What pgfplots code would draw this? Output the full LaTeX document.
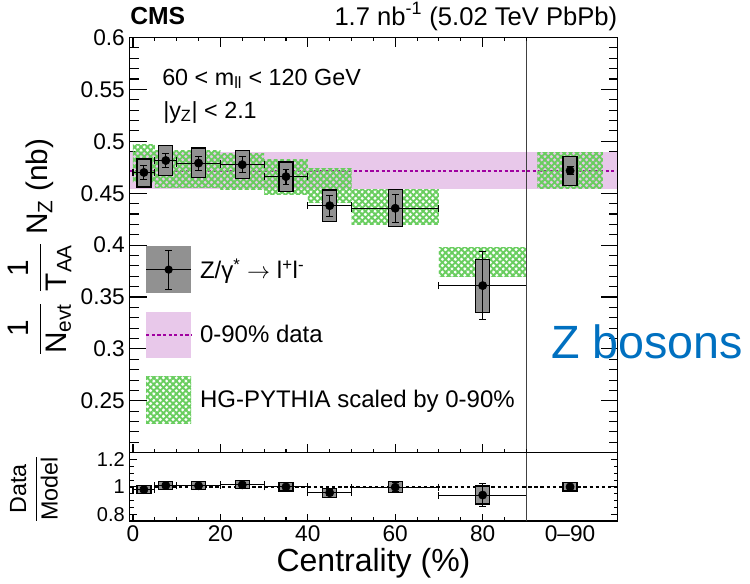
\documentclass[border=0pt]{standalone}
\usepackage{amsmath}
\usepackage{fontspec}
\setmainfont{Liberation Sans}
\usepackage{pgfplots}
\usepackage{pgfplotstable}
\pgfplotsset{compat=1.18}
\usetikzlibrary{patterns.meta}

\definecolor{bandpink}{RGB}{232,200,234}
\definecolor{linepurple}{RGB}{160,0,160}
\definecolor{hgreen}{RGB}{105,205,95}
\definecolor{boxgray}{RGB}{145,145,145}
\definecolor{zblue}{RGB}{0,112,192}

% normalised Z yields per centrality class: x, value, half bin width, stat. error
\pgfplotstableread{
x     y       ex    ey
2.5   0.4700  2.5   0.0064
7.5   0.4815  2.5   0.0070
15    0.4790  5     0.0067
25    0.4775  5     0.0075
35    0.4660  5     0.0072
45    0.4380  5     0.0100
60    0.4355  10    0.0135
80    0.3610  10    0.0330
100   0.4717  0     0.0040
}\yields

% data / HG-PYTHIA
\pgfplotstableread{
x     r       ex    er
2.5   0.980   2.5   0.014
7.5   1.010   2.5   0.016
15    1.008   5     0.015
25    1.015   5     0.016
35    1.000   5     0.016
45    0.957   5     0.022
60    0.998   10    0.031
80    0.940   10    0.086
100   1.000   0     0.009
}\ratios

\tikzset{
  hatchA/.style={pattern={Lines[angle=45,distance=3.4pt,line width=1.45pt]},pattern color=hgreen},
  hatchB/.style={pattern={Lines[angle=-45,distance=3.4pt,line width=1.45pt]},pattern color=hgreen},
}
% systematic box: xlo, xhi, ylo, yhi
\newcommand\sysbox[4]{\addplot[forget plot, fill=boxgray, draw=black, line width=0.9pt] coordinates {(#1,#3) (#2,#3) (#2,#4) (#1,#4)} -- cycle;}
% model band: xlo, xhi, ylo, yhi
\newcommand\hgband[4]{%
  \addplot[forget plot, draw=none, hatchA] coordinates {(#1,#3) (#2,#3) (#2,#4) (#1,#4)} -- cycle;
  \addplot[forget plot, draw=none, hatchB] coordinates {(#1,#3) (#2,#3) (#2,#4) (#1,#4)} -- cycle;}

\pgfplotsset{
  cmsaxis/.style={
    scale only axis, width=366pt, xmin=-0.8, xmax=110.85,
    axis line style={line width=0.9pt, black},
    tick style={line width=0.8pt, black},
    /pgf/number format/assume math mode=true,
    yticklabel style={/pgf/number format/fixed},
  },
  pts/.style={black, only marks, mark=*, mark size=3.1pt,
    error bars/.cd, x dir=both, x explicit, y dir=both, y explicit,
    error bar style={line width=0.8pt, black},
    error mark options={rotate=90, mark size=2.6pt, line width=0.8pt, black}},
}

\begin{document}
\begin{tikzpicture}[x=0.75pt, y=-0.75pt]
\path[use as bounding box] (0,0) rectangle (750,583);

% ---------------- upper panel ----------------
\begin{axis}[cmsaxis, at={(97.125pt,-339.525pt)}, anchor=south west, height=311.4pt,
  ymin=0.2, ymax=0.6,
  ytick={0.25,0.3,...,0.61}, minor ytick={0.21,0.22,...,0.595},
  xtick=\empty,
  major tick length=12.75pt, minor tick length=6.75pt,
  yticklabel style={font=\fontsize{17}{17}\selectfont},
  legend style={at={(axis description cs:0.0318,0.4978)}, anchor=north west,
    draw=none, fill=none, inner sep=0pt, row sep=14pt, column sep=6pt,
    nodes={inner sep=0pt, anchor=west}, font=\fontsize{18}{18}\selectfont},
  legend cell align=left,
]
% 0-90% reference band and its central value
\addplot[forget plot, fill=bandpink, draw=none] coordinates {(-0.8,0.4541) (110.85,0.4541) (110.85,0.4893) (-0.8,0.4893)} -- cycle;
\addplot[forget plot, linepurple, line width=1.3pt, dash pattern=on 2.4pt off 1.8pt] coordinates {(-0.8,0.4717) (110.85,0.4717)};
% HG-PYTHIA scaled by 0-90%
\hgband{0}{5}{0.4599}{0.4967}
\hgband{5}{10}{0.4555}{0.4915}
\hgband{10}{20}{0.4555}{0.4915}
\hgband{20}{30}{0.4534}{0.4887}
\hgband{30}{40}{0.4486}{0.4822}
\hgband{40}{50}{0.4407}{0.4742}
\hgband{50}{70}{0.4198}{0.4535}
\hgband{70}{90}{0.3696}{0.3980}
\hgband{92.5}{107.5}{0.4541}{0.4893}
% systematic uncertainties
\sysbox{0.9}{4.1}{0.456}{0.483}
\sysbox{5.9}{9.1}{0.467}{0.496}
\sysbox{13.4}{16.6}{0.4655}{0.4935}
\sysbox{23.4}{26.6}{0.464}{0.491}
\sysbox{33.4}{36.6}{0.452}{0.480}
\sysbox{43.4}{46.6}{0.423}{0.453}
\sysbox{58.4}{61.6}{0.418}{0.4535}
\sysbox{78.4}{81.6}{0.335}{0.386}
\sysbox{98.4}{101.6}{0.4573}{0.4855}
\addplot[forget plot, pts] table[x=x, y=y, x error=ex, y error=ey] {\yields};
\addplot[forget plot, black!75, line width=0.9pt] coordinates {(90,0.2) (90,0.6)};

\addlegendimage{legend image code/.code={
  \path[draw=none, fill=boxgray] (0pt,-17.5pt) rectangle (33.75pt,17.5pt);
  \draw[black, line width=0.8pt] (0pt,0pt) -- (33.75pt,0pt);
  \draw[black, line width=0.8pt] (16.875pt,-14.6pt) -- (16.875pt,14.6pt);
  \draw[black, line width=0.8pt] (14.4pt,-14.6pt) -- (19.4pt,-14.6pt) (14.4pt,14.6pt) -- (19.4pt,14.6pt);
  \path[draw=none, fill=black] (16.875pt,0pt) circle (3.1pt);}}
\addlegendentry{Z/γ\textsuperscript{*} $\rightarrow$ l\textsuperscript{+}l\textsuperscript{-}}
\addlegendimage{legend image code/.code={
  \path[draw=none, fill=bandpink] (0pt,-17.5pt) rectangle (33.75pt,17.5pt);
  \draw[linepurple, line width=1.3pt, dash pattern=on 2.4pt off 1.8pt] (0pt,0pt) -- (33.75pt,0pt);}}
\addlegendentry{0-90\% data}
\addlegendimage{legend image code/.code={
  \path[draw=none, hatchA] (0pt,-17.5pt) rectangle (33.75pt,17.5pt);
  \path[draw=none, hatchB] (0pt,-17.5pt) rectangle (33.75pt,17.5pt);}}
\addlegendentry{HG-PYTHIA scaled by 0-90\%}
\end{axis}

% x ticks of the upper panel
\begin{axis}[cmsaxis, at={(97.125pt,-339.525pt)}, anchor=south west, height=311.4pt,
  ymin=0.2, ymax=0.6, ytick=\empty,
  xtick={0,20,...,80}, minor xtick={5,10,15,25,30,35,45,50,55,65,70,75,85,90},
  xticklabel=\empty,
  major tick length=6.75pt, minor tick length=2.8pt]
\end{axis}

% ---------------- ratio panel ----------------
\begin{axis}[cmsaxis, at={(97.125pt,-390.75pt)}, anchor=south west, height=51.2pt,
  ymin=0.75, ymax=1.25,
  ytick={0.8,1,1.2}, minor ytick={0.75,0.85,0.9,0.95,1.05,1.1,1.15,1.25},
  yticklabel style={font=\fontsize{15}{15}\selectfont},
  xtick={0,20,...,80}, minor xtick={5,10,15,25,30,35,45,50,55,65,70,75,85,90},
  xtick pos=left,
  xticklabel style={font=\fontsize{17}{17}\selectfont},
  extra x ticks={100}, extra x tick labels={0--90},
  extra x tick style={major tick length=0pt, xticklabel style={font=\fontsize{17}{17}\selectfont}},
  major tick length=5.25pt, minor tick length=3pt,
]
\addplot[black, line width=1.4pt, dash pattern=on 2.6pt off 2pt] coordinates {(-0.8,1) (110.85,1)};
\sysbox{0.9}{4.1}{0.952}{1.008}
\sysbox{5.9}{9.1}{0.980}{1.040}
\sysbox{13.4}{16.6}{0.979}{1.037}
\sysbox{23.4}{26.6}{0.986}{1.044}
\sysbox{33.4}{36.6}{0.970}{1.030}
\sysbox{43.4}{46.6}{0.924}{0.990}
\sysbox{58.4}{61.6}{0.958}{1.038}
\sysbox{78.4}{81.6}{0.874}{1.006}
\sysbox{98.4}{101.6}{0.970}{1.030}
\addplot[pts] table[x=x, y=r, x error=ex, y error=er] {\ratios};
\addplot[black!75, line width=0.9pt] coordinates {(90,0.75) (90,1.25)};
\end{axis}

% ---------------- titles and labels ----------------
\node[anchor=base west, font=\fontsize{18.5}{18.5}\selectfont\bfseries, inner sep=0pt] at (130,24) {CMS};
\node[anchor=base east, font=\fontsize{19.2}{19.2}\selectfont, inner sep=0pt] at (617.5,25) {1.7 nb\textsuperscript{-1} (5.02 TeV PbPb)};
\node[anchor=base west, font=\fontsize{17.5}{17.5}\selectfont, inner sep=0pt] at (162,85) {60 < m\textsubscript{ll} < 120 GeV};
\node[anchor=base west, font=\fontsize{17.5}{17.5}\selectfont, inner sep=0pt] at (163,118) {|y\textsubscript{Z}| < 2.1};
\node[rotate=90, font=\fontsize{22.3}{22.3}\selectfont, inner sep=0pt] at (40,247)
  {$\displaystyle\frac{\text{1}}{\text{N}_{\text{evt}}}\hspace{7pt}\frac{\text{1}}{\text{T}_{\text{AA}}}\hspace{6pt}\text{N}_{\text{Z}}$ (nb)};
\node[rotate=90, font=\fontsize{17.5}{17.5}\selectfont, inner sep=0pt] at (34,489)
  {$\displaystyle\frac{\text{Data}}{\text{Model}}$};
\node[font=\fontsize{24}{24}\selectfont, inner sep=0pt] at (373.5,563) {Centrality (\%)};
\node[anchor=base west, font=\fontsize{35}{35}\selectfont, text=zblue, inner sep=0pt] at (551,358) {Z bosons};
\end{tikzpicture}
\end{document}
